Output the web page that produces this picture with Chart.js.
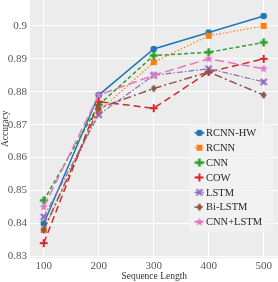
<!DOCTYPE html>
<html>
<head>
<meta charset="utf-8">
<script src="https://cdn.jsdelivr.net/npm/chart.js@4"></script>
<style>
html,body{margin:0;padding:0;background:#fff;overflow:hidden;}
#view{position:relative;width:278px;height:282px;overflow:hidden;}
#wrap{position:absolute;left:0;top:-10px;width:284px;height:292px;}
</style>
</head>
<body>
<div id="view"><div id="wrap"><canvas id="c"></canvas></div></div>
<script>
// ---- data ----
const seqLengths = [100, 200, 300, 400, 500];
const seriesNames = ["RCNN-HW", "RCNN", "CNN", "COW", "LSTM", "Bi-LSTM", "CNN+LSTM"];
const rcnnHw  = [0.840, 0.879, 0.893, 0.898, 0.903];
const rcnn    = [0.838, 0.874, 0.889, 0.897, 0.900];
const cnn     = [0.847, 0.876, 0.891, 0.892, 0.895];
const cow     = [0.834, 0.877, 0.875, 0.886, 0.890];
const lstm    = [0.842, 0.873, 0.885, 0.887, 0.883];
const biLstm  = [0.838, 0.875, 0.881, 0.886, 0.879];
const cnnLstm = [0.845, 0.879, 0.885, 0.890, 0.887];
const yTicks = [0.83, 0.84, 0.85, 0.86, 0.87, 0.88, 0.89, 0.90];
const xTicks = [100, 200, 300, 400, 500];

// ---- styles ----
const colors = ["#1f77b4", "#ff7f0e", "#2ca02c", "#d62728", "#9467bd", "#8c564b", "#e377c2"];
const dashes = [[], [1.5, 2], [4, 2.5], [7, 4], [6, 2, 1.5, 2], [8, 3, 2, 3], [9, 4]];
const widths = [1.5, 1.2, 1.5, 1.5, 1.2, 1.5, 1.5];

function mk(color, draw) {
  const c = document.createElement('canvas');
  c.width = 12; c.height = 12;
  const g = c.getContext('2d');
  g.fillStyle = color; g.strokeStyle = color;
  g.translate(6, 6);
  draw(g);
  return c;
}
function plusFilled(g) { const a = 1.3, b = 4; g.fillRect(-b, -a, 2 * b, 2 * a); g.fillRect(-a, -b, 2 * a, 2 * b); }
const shapes = [
  g => { g.beginPath(); g.arc(0, 0, 3.3, 0, Math.PI * 2); g.fill(); },
  g => { g.fillRect(-3, -3, 6, 6); },
  g => { plusFilled(g); },
  g => { g.lineWidth = 2; g.beginPath(); g.moveTo(-4, 0); g.lineTo(4, 0); g.moveTo(0, -4); g.lineTo(0, 4); g.stroke(); },
  g => { g.rotate(Math.PI / 4); const a = 1.1, b = 4.2; g.fillRect(-b, -a, 2 * b, 2 * a); g.fillRect(-a, -b, 2 * a, 2 * b); },
  g => { g.beginPath(); g.moveTo(0, -4.1); g.lineTo(3, 0); g.lineTo(0, 4.1); g.lineTo(-3, 0); g.closePath(); g.fill(); },
  g => { g.beginPath(); for (let k = 0; k < 10; k++) { const r = k % 2 ? 1.9 : 4.5; const t = -Math.PI / 2 + k * Math.PI / 5; g.lineTo(r * Math.cos(t), r * Math.sin(t)); } g.closePath(); g.fill(); }
];
const markers = colors.map((c, i) => mk(c, shapes[i]));

const allSeries = [rcnnHw, rcnn, cnn, cow, lstm, biLstm, cnnLstm];
const datasets = allSeries.map((arr, i) => ({
  label: seriesNames[i],
  data: seqLengths.map((x, j) => ({ x: x, y: arr[j] })),
  borderColor: colors[i],
  backgroundColor: colors[i],
  borderWidth: widths[i],
  borderDash: dashes[i],
  pointStyle: markers[i],
  pointRadius: 4,
  tension: 0,
  fill: false,
  order: allSeries.length - i
}));

const bgPlugin = {
  id: 'bg',
  beforeDraw(chart) {
    const { ctx, chartArea: a } = chart;
    ctx.save();
    ctx.fillStyle = '#ececec';
    ctx.fillRect(a.left, a.top, a.right - a.left, a.bottom - a.top);
    ctx.restore();
  }
};

const legendPlugin = {
  id: 'customLegend',
  afterDraw(chart) {
    const ctx = chart.ctx;
    const a = chart.chartArea;
    ctx.save();
    ctx.fillStyle = 'rgba(243,243,243,0.8)';
    const bx = 189, by = a.top + 124, bw = 84, bh = 108;
    ctx.beginPath();
    if (ctx.roundRect) ctx.roundRect(bx, by, bw, bh, 3); else ctx.rect(bx, by, bw, bh);
    ctx.fill();
    ctx.font = '10.5px "Liberation Serif", "Times New Roman", serif';
    ctx.textBaseline = 'middle';
    ctx.textAlign = 'left';
    chart.data.datasets.forEach((ds, i) => {
      const y = a.top + 133.3 + i * 14.85;
      const mx = 199.5;
      ctx.save();
      ctx.strokeStyle = ds.borderColor;
      ctx.lineWidth = ds.borderWidth;
      ctx.setLineDash(ds.borderDash);
      ctx.beginPath();
      ctx.moveTo(mx - 5, y);
      ctx.lineTo(mx + 5, y);
      ctx.stroke();
      ctx.restore();
      ctx.drawImage(ds.pointStyle, mx - 6, y - 6);
      ctx.fillStyle = '#262626';
      ctx.fillText(ds.label, 206, y + 0.5);
    });
    ctx.restore();
  }
};

new Chart(document.getElementById('c'), {
  type: 'line',
  data: { datasets: datasets },
  options: {
    responsive: true,
    maintainAspectRatio: false,
    animation: false,
    layout: { padding: 0 },
    plugins: { legend: { display: false }, tooltip: { enabled: false } },
    elements: { line: { borderCapStyle: 'butt' } },
    scales: {
      x: {
        type: 'linear',
        min: 75, max: 527,
        afterBuildTicks: s => { s.ticks = xTicks.map(v => ({ value: v })); },
        afterFit: s => { s.height = 24; },
        grid: { color: '#ffffff', lineWidth: 1, drawTicks: false },
        border: { display: false },
        ticks: {
          padding: 2,
          color: '#555',
          font: { family: '"Liberation Serif", serif', size: 11 },
          callback: v => String(v)
        },
        title: {
          display: true, text: 'Sequence Length', color: '#333',
          font: { family: '"Liberation Serif", serif', size: 9.5 },
          padding: { top: 0, bottom: 0 }
        }
      },
      y: {
        type: 'linear',
        min: 0.8295, max: 0.908,
        afterBuildTicks: s => { s.ticks = yTicks.map(v => ({ value: v })); },
        afterFit: s => { s.width = 30; },
        grid: { color: '#ffffff', lineWidth: 1, drawTicks: false },
        border: { display: false },
        ticks: {
          padding: 3,
          color: '#555',
          font: { family: '"Liberation Serif", serif', size: 11 },
          callback: v => String(Number(v.toFixed(2)))
        },
        title: {
          display: true, text: 'Accuracy', color: '#333',
          font: { family: '"Liberation Serif", serif', size: 9.5 },
          padding: { top: 0, bottom: 0 }
        }
      }
    }
  },
  plugins: [bgPlugin, legendPlugin]
});
</script>
</body>
</html>
